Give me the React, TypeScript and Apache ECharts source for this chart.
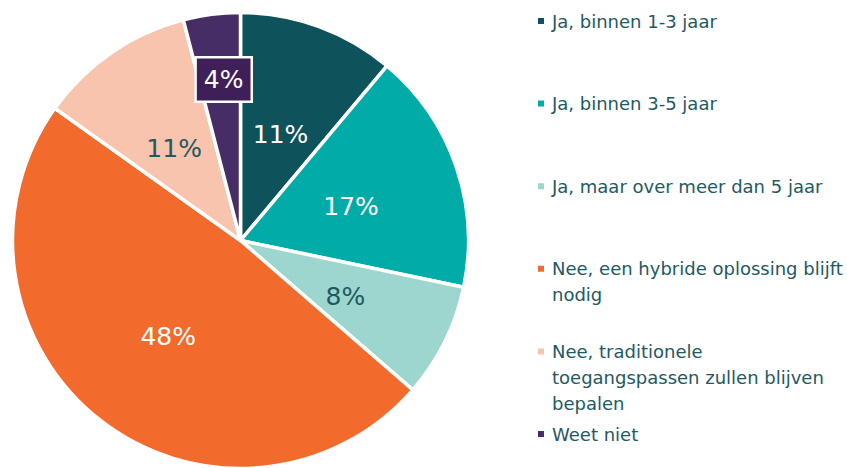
import React, { useEffect, useRef } from "react";
import * as echarts from "echarts";

// ---- data ----
const categories = [
  "Ja, binnen 1-3 jaar",
  "Ja, binnen 3-5 jaar",
  "Ja, maar over meer dan 5 jaar",
  "Nee, een hybride oplossing blijft nodig",
  "Nee, traditionele toegangspassen zullen blijven bepalen",
  "Weet niet",
];
const shares = [11, 17, 8, 48, 11, 4];

// ---- styles ----
const sliceColors = ["#0e535c", "#00aba8", "#9dd6cf", "#f26b2c", "#f8c4ae", "#472d65"];
const labelColors = ["#ffffff", "#ffffff", "#1d5a63", "#ffffff", "#1d5a63", "#ffffff"];
const TEXT = "#1d5a63";
const FONT = "DejaVu Sans";
const LEGEND_SIZE = 18;
const LINE_H = 26;
const LEGEND_MAX_W = 298;

function wrapText(text: string, maxWidth: number, font: string): string[] {
  const ctx = document.createElement("canvas").getContext("2d");
  if (!ctx) return [text];
  ctx.font = font;
  const words = text.split(" ");
  const lines: string[] = [];
  let cur = "";
  for (const w of words) {
    const test = cur ? cur + " " + w : w;
    if (cur && ctx.measureText(test).width > maxWidth) {
      lines.push(cur);
      cur = w;
    } else cur = test;
  }
  if (cur) lines.push(cur);
  return lines;
}

export default function App() {
  const ref = useRef<HTMLDivElement>(null);
  useEffect(() => {
    if (!ref.current) return;
    const chart = echarts.init(ref.current, undefined, { renderer: "svg" });

    const legends = categories.map((name, i) => {
      const lines = wrapText(name, LEGEND_MAX_W, `${LEGEND_SIZE}px "${FONT}"`);
      const n = lines.length;
      const firstLine = 21 + i * 82.6;
      // blank lines before the text keep the marker level with the first line
      const text = "\n".repeat(n - 1) + lines.join("\n");
      return {
        show: true,
        orient: "vertical",
        left: 536,
        top: firstLine - ((2 * n - 1) * LINE_H) / 2,
        padding: 0,
        icon: "rect",
        itemWidth: 8,
        itemHeight: 8,
        selectedMode: false,
        data: [name],
        formatter: () => text,
        textStyle: {
          fontFamily: FONT,
          fontSize: LEGEND_SIZE,
          color: TEXT,
          lineHeight: LINE_H,
          padding: [0, 0, 0, 2],
        },
      };
    });

    chart.setOption({
      animation: false,
      legend: legends,
      series: [
        {
          type: "pie",
          center: [240.5, 240.5],
          radius: 228,
          startAngle: 90,
          clockwise: true,
          avoidLabelOverlap: false,
          emphasis: { disabled: true },
          itemStyle: { borderColor: "#ffffff", borderWidth: 3.5 },
          label: {
            show: true,
            position: "inside",
            formatter: "{c}%",
            fontFamily: FONT,
            fontSize: 25,
            lineHeight: 28,
          },
          labelLine: { show: false },
          labelLayout: (p: any) =>
            p.dataIndex === 5 ? { dy: -45, dx: -2 } : { dy: 4 },
          data: categories.map((name, i) => ({
            name,
            value: shares[i],
            itemStyle: { color: sliceColors[i] },
            label:
              i === 5
                ? {
                    color: labelColors[i],
                    backgroundColor: "#3f1f58",
                    borderColor: "#ffffff",
                    borderWidth: 2.5,
                    padding: [8, 7, 6, 7],
                  }
                : { color: labelColors[i] },
          })),
        },
      ],
    });
    return () => chart.dispose();
  }, []);
  return (
    <div
      ref={ref}
      style={{ position: "absolute", left: 0, top: 0, width: 847, height: 468 }}
    />
  );
}
